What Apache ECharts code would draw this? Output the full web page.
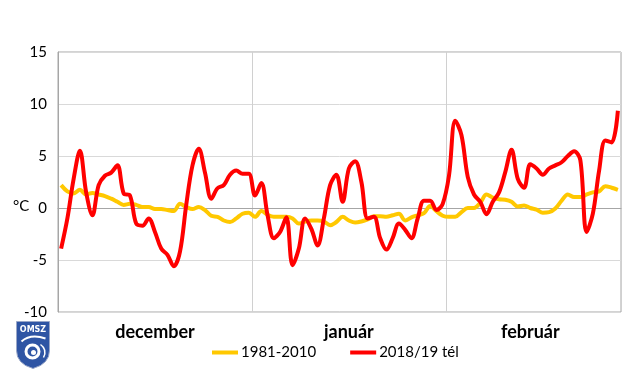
<!DOCTYPE html>
<html>
<head>
<meta charset="utf-8">
<script src="https://cdn.jsdelivr.net/npm/echarts@6/dist/echarts.min.js"></script>
<style>
html,body{margin:0;padding:0;background:#fff;}
#chart{width:640px;height:391px;}
</style>
</head>
<body>
<div id="chart"></div>
<script>
// ---- data ----
const monthNames = ['december', 'január', 'február'];
const monthDays = [31, 31, 28];
const monthLabelIndex = [15, 46, 75];
const yTicks = [-10, -5, 0, 5, 10, 15];
const seriesNames = ['1981-2010', '2018/19 tél'];

const normal19812010 = [
  2.2, 1.6, 1.4, 1.75, 1.3, 1.45, 1.3, 1.15, 0.9, 0.6,
  0.3, 0.4, 0.3, 0.1, 0.1, -0.1, -0.1, -0.2, -0.3, 0.4,
  0.1, -0.1, 0.1, -0.2, -0.75, -0.85, -1.2, -1.35, -1.0, -0.55,
  -0.45, -0.85, -0.3, -0.65, -0.85, -0.85, -0.85, -1.0, -1.5, -1.3,
  -1.2, -1.2, -1.3, -1.65, -1.35, -0.85, -1.2, -1.4, -1.3, -1.1,
  -0.8, -0.8, -0.85, -0.7, -0.55, -1.2, -0.9, -0.7, -0.5, 0.2,
  -0.3, -0.75, -0.85, -0.85, -0.4, 0.0, 0.0, 0.5, 1.3, 1.0,
  0.85, 0.8, 0.6, 0.15, 0.25, 0.0, -0.15, -0.45, -0.4, -0.05,
  0.7, 1.3, 1.05, 1.05, 1.3, 1.5, 1.6, 2.1, 1.95, 1.75
];

const winter201819 = [
  -3.9, -1.0, 2.8, 5.5, 1.5, -0.7, 2.2, 3.1, 3.4, 4.1,
  1.4, 1.2, -1.5, -1.7, -1.0, -2.3, -3.9, -4.5, -5.6, -4.2,
  0.3, 4.1, 5.7, 3.4, 0.9, 1.9, 2.2, 3.2, 3.6, 3.3,
  3.3, 1.2, 2.4, -0.7, -2.9, -2.3, -0.9, -5.5, -3.9, -1.0,
  -2.0, -3.6, -1.0, 2.2, 3.2, 0.6, 3.8, 4.5, 2.5, -1.0,
  -0.85, -2.9, -4.0, -2.9, -1.5, -2.1, -2.9, -1.0, 0.7, 0.7,
  -0.2, 0.4, 3.1, 8.4, 7.0, 3.0, 1.3, 0.6, -0.6, 0.6,
  1.5, 3.45, 5.6, 2.8, 1.95, 4.2, 3.8, 3.2, 3.8, 4.1,
  4.4, 5.0, 5.45, 4.6, -2.3, -0.55, 3.6, 6.5, 6.3, 9.35
];

// categories: one per day
const categories = [];
const monthStart = [];
monthNames.forEach(function (m, mi) {
  monthStart.push(categories.length);
  for (let d = 1; d <= monthDays[mi]; d++) categories.push(m + ' ' + d);
});

const FONT = 'Lato, "Open Sans", sans-serif';
const chart = echarts.init(document.getElementById('chart'), null, {renderer: 'canvas'});

chart.setOption({
  animation: false,
  backgroundColor: '#ffffff',
  textStyle: {fontFamily: FONT},
  grid: {
    left: 58, right: 19, top: 52, bottom: 79,
    show: true, borderColor: '#a6a6a6', borderWidth: 1, backgroundColor: 'transparent'
  },
  legend: {
    left: 212, top: 345,
    padding: 0,
    itemGap: 34,
    itemWidth: 26, itemHeight: 4,
    icon: 'rect',
    textStyle: {fontFamily: FONT, fontSize: 15, color: '#000', padding: [0, 0, 0, -2]},
    data: seriesNames
  },
  xAxis: {
    type: 'category',
    data: categories,
    boundaryGap: true,
    axisLine: {show: true, lineStyle: {color: '#a6a6a6', width: 1}},
    axisTick: {show: false},
    splitLine: {
      show: true,
      interval: function (index) { return monthStart.indexOf(index) > 0; },
      lineStyle: {color: '#d0d0d0', width: 1}
    },
    axisLabel: {
      interval: function (index) { return monthLabelIndex.indexOf(index) >= 0; },
      formatter: function (value, index) {
        const k = monthLabelIndex.indexOf(index);
        return k >= 0 ? monthNames[k] : '';
      },
      margin: 11,
      fontFamily: FONT, fontSize: 18, fontWeight: 'bold', color: '#000'
    }
  },
  yAxis: {
    type: 'value',
    min: yTicks[0], max: yTicks[yTicks.length - 1], interval: 5,
    axisLine: {show: true, lineStyle: {color: '#a6a6a6', width: 1}},
    axisTick: {show: false},
    splitLine: {show: true, lineStyle: {color: '#d9d9d9', width: 1}},
    axisLabel: {margin: 11, fontFamily: FONT, fontSize: 15, color: '#000'}
  },
  graphic: [
    {type: 'text', left: 13, top: 199, style: {text: '°C', fontFamily: FONT, fontSize: 15, fill: '#000'}},
    {
      type: 'group', left: 16, top: 321,
      children: [
        {type: 'polygon',
         shape: {points: [[0,0],[33,0],[33,29],[32,35],[29,40],[24,44],[16.5,47],[9,44],[4,40],[1,35],[0,29]]},
         style: {fill: '#2f55a4', stroke: '#9aa7c8', lineWidth: 1}},
        {type: 'text', x: 16.5, y: 4, style: {text: 'OMSZ', fontFamily: 'DejaVu Sans', fontSize: 8, fontWeight: 'bold', fill: '#ffffff', align: 'center'}},
        {type: 'ring', shape: {cx: 16, cy: 30, r: 8, r0: 5}, style: {fill: '#ffffff'}},
        {type: 'circle', shape: {cx: 17, cy: 31, r: 2.5}, style: {fill: '#ffffff'}},
        {type: 'bezierCurve', shape: {x1: 5, y1: 20, cpx1: 14, cpy1: 12, x2: 29, y2: 17}, style: {fill: null, stroke: '#ffffff', lineWidth: 2}},
        {type: 'bezierCurve', shape: {x1: 24, y1: 23, cpx1: 31, cpy1: 28, x2: 27, y2: 36}, style: {fill: null, stroke: '#ffffff', lineWidth: 1.5}}
      ]
    }
  ],
  series: [
    {
      name: seriesNames[0], type: 'line', data: normal19812010,
      smooth: 0.35, showSymbol: false, symbol: 'none',
      itemStyle: {color: '#ffc800'},
      lineStyle: {color: '#ffc800', width: 4}
    },
    {
      name: seriesNames[1], type: 'line', data: winter201819,
      smooth: 0.35, showSymbol: false, symbol: 'none',
      itemStyle: {color: '#ff0000'},
      lineStyle: {color: '#ff0000', width: 4}
    }
  ]
});
</script>
</body>
</html>
